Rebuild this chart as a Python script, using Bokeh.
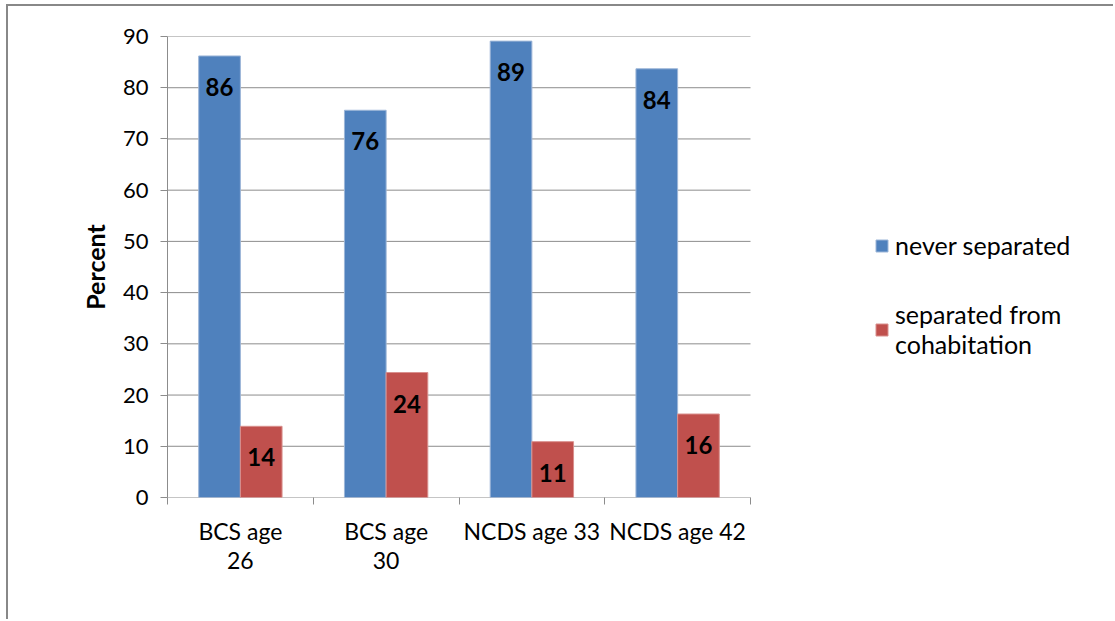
from bokeh.plotting import figure
from bokeh.models import (FixedTicker, Range1d, Legend, LegendItem, ColumnDataSource)
from bokeh.core.properties import value
from bokeh.embed import file_html
from bokeh.resources import INLINE

categories = ["BCS age\n26", "BCS age\n30", "NCDS age 33", "NCDS age 42"]
never_separated = [86.2, 75.6, 89.1, 83.7]
separated = [13.9, 24.4, 10.9, 16.3]
never_labels = ["86", "76", "89", "84"]
sep_labels = ["14", "24", "11", "16"]
series_names = ["never separated", "separated from\ncohabitation"]
y_ticks = [0, 10, 20, 30, 40, 50, 60, 70, 80, 90]

BLUE = "#4F81BD"
RED = "#C0504D"
GRID = "#8C8C8C"
FONT = "Lato"

# outer frame drawn as css border; canvas starts at (8, 6)
OX, OY = 8, 6
W, H = 1115 - OX, 621 - OY
PLOT_L, PLOT_R = 167, 750           # plot area in page pixels
n = len(categories)
x_end = n * (1115 - PLOT_L) / (PLOT_R - PLOT_L)   # frame extends to right edge (legend space)

p = figure(width=W, height=H, output_backend="svg", toolbar_location=None,
           x_range=Range1d(0, x_end), y_range=Range1d(0, 90),
           min_border_left=PLOT_L - OX, min_border_right=0,
           min_border_top=36 - OY, min_border_bottom=621 - 497)
p.styles = {"margin-left": "6px", "margin-top": "4px",
            "border-left": "2px solid #888888", "border-top": "2px solid #888888"}
p.outline_line_color = None
p.background_fill_color = "white"
p.border_fill_color = "white"

# gridlines limited to the category area
p.xgrid.grid_line_color = None
p.ygrid.grid_line_color = None
p.segment(x0=[0] * len(y_ticks), x1=[n] * len(y_ticks), y0=y_ticks, y1=y_ticks,
          line_color=GRID, line_width=1)

off = 0.143
bw = 0.286
xb = [i + 0.5 - off for i in range(n)]
xr = [i + 0.5 + off for i in range(n)]

src_b = ColumnDataSource(dict(x=xb, top=never_separated, lab=never_labels))
src_r = ColumnDataSource(dict(x=xr, top=separated, lab=sep_labels))

rb = p.vbar(x="x", top="top", width=bw, bottom=0, source=src_b,
            fill_color=BLUE, line_color="#9DB6D8", line_width=1)
rr = p.vbar(x="x", top="top", width=bw, bottom=0, source=src_r,
            fill_color=RED, line_color="#D9908E", line_width=1)

for src in (src_b, src_r):
    p.text(x="x", y="top", text="lab", source=src, y_offset=31,
           text_align="center", text_baseline="middle",
           text_font=value(FONT), text_font_style="bold",
           text_font_size="24px", text_color="black")

# axes
xa = p.xaxis[0]
xa.ticker = FixedTicker(ticks=[i + 0.5 for i in range(n)],
                        minor_ticks=list(range(n + 1)))
xa.major_label_overrides = {i + 0.5: c for i, c in enumerate(categories)}
xa.major_tick_line_color = None
xa.minor_tick_line_color = GRID
xa.minor_tick_in = 0
xa.minor_tick_out = 7
xa.axis_line_color = None
xa.major_label_text_font = FONT
xa.major_label_text_font_size = "23px"
xa.major_label_text_color = "black"
xa.major_label_text_line_height = 1.05
xa.major_label_standoff = 12

ya = p.yaxis[0]
ya.ticker = FixedTicker(ticks=y_ticks)
ya.minor_tick_line_color = None
ya.major_tick_line_color = GRID
ya.major_tick_in = 0
ya.major_tick_out = 7
ya.axis_line_color = GRID
ya.major_label_text_font = FONT
ya.major_label_text_font_size = "22px"
ya.major_label_text_color = "black"
ya.major_label_standoff = 12
ya.axis_label = "Percent"
ya.axis_label_text_font = FONT
ya.axis_label_text_font_style = "bold"
ya.axis_label_text_font_size = "25px"
ya.axis_label_text_color = "black"
ya.axis_label_standoff = 10

legend = Legend(items=[LegendItem(label=series_names[0], renderers=[rb]),
                       LegendItem(label=series_names[1], renderers=[rr])],
                location=(707, 138), orientation="vertical")
legend.border_line_color = None
legend.background_fill_alpha = 0
legend.padding = 0
legend.margin = 0
legend.label_text_font = FONT
legend.label_text_font_size = "25px"
legend.label_text_line_height = 1.9
legend.label_text_color = "black"
legend.glyph_width = 15
legend.glyph_height = 15
legend.spacing = 39
legend.label_standoff = 6
p.add_layout(legend)

open("out.html", "w").write(file_html(p, INLINE))
